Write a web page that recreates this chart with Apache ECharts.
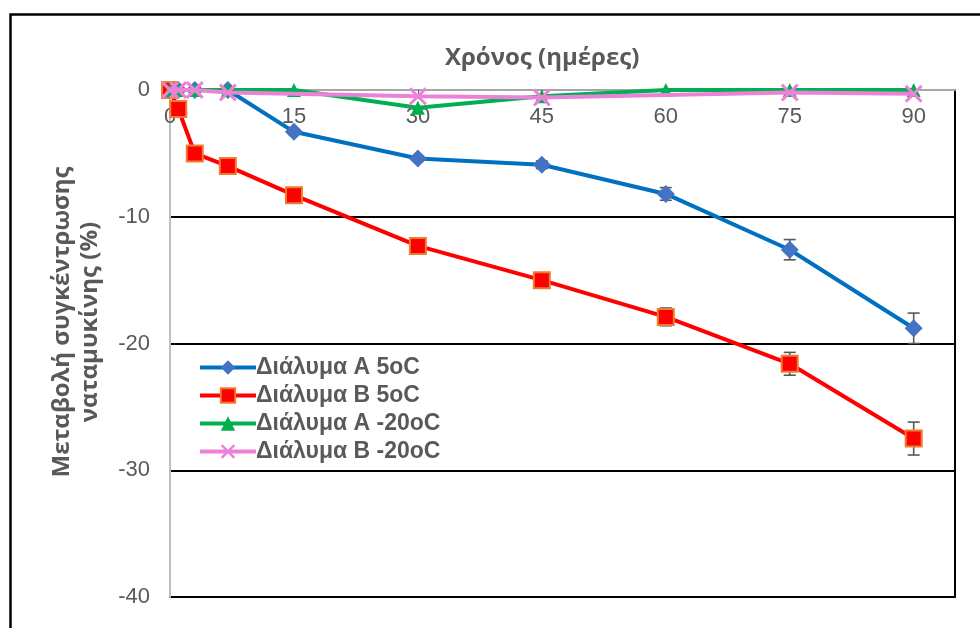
<!DOCTYPE html>
<html>
<head>
<meta charset="utf-8">
<script src="https://cdn.jsdelivr.net/npm/echarts@6/dist/echarts.min.js"></script>
<style>
  html, body { margin: 0; padding: 0; background: #fff; }
  #mainChart { width: 980px; height: 628px; }
</style>
</head>
<body>
<div id="mainChart"></div>
<script>
// δεδομένα
var days = [0, 1, 3, 7, 15, 30, 45, 60, 75, 90];
var xTicks = [0, 15, 30, 45, 60, 75, 90];
var yTicks = [0, -10, -20, -30, -40];
var seriesNames = ['Διάλυμα A 5oC', 'Διάλυμα B 5oC', 'Διάλυμα A -20oC', 'Διάλυμα B -20oC'];
var solA5 = [0, 0, 0, 0, -3.3, -5.4, -5.9, -8.2, -12.6, -18.8];
var solA5Err = [0, 0, 0, 0, 0.2, 0.2, 0.3, 0.5, 0.8, 1.2];
var solB5 = [0, -1.5, -5.0, -6.0, -8.3, -12.3, -15.0, -17.9, -21.6, -27.5];
var solB5Err = [0, 0, 0, 0, 0.2, 0.3, 0.5, 0.7, 0.9, 1.3];
var solA20 = [0, 0, 0, 0, 0, -1.4, -0.5, 0, 0, 0];
var solB20 = [0, 0, 0, -0.2, null, -0.5, -0.6, null, -0.2, -0.3];

var chartDom = document.getElementById('mainChart');
var myChart = echarts.init(chartDom);

function pairs(vals) {
    return days.map(function (d, i) { return [d, vals[i]]; });
}
function errData(vals, errs) {
    return days.map(function (d, i) { return [d, vals[i], errs[i]]; })
        .filter(function (p) { return p[2] > 0; });
}
function errorBars(params, api) {
    var x = api.value(0), y = api.value(1), e = api.value(2);
    var hi = api.coord([x, y + e]);
    var lo = api.coord([x, y - e]);
    var w = 6;
    var st = { stroke: '#595959', lineWidth: 1.6 };
    return {
        type: 'group',
        children: [
            { type: 'line', shape: { x1: hi[0], y1: hi[1], x2: lo[0], y2: lo[1] }, style: st },
            { type: 'line', shape: { x1: hi[0] - w, y1: hi[1], x2: hi[0] + w, y2: hi[1] }, style: st },
            { type: 'line', shape: { x1: lo[0] - w, y1: lo[1], x2: lo[0] + w, y2: lo[1] }, style: st }
        ]
    };
}

var xMark = 'path://M0,1.2L1.2,0L5,3.8L8.8,0L10,1.2L6.2,5L10,8.8L8.8,10L5,6.2L1.2,10L0,8.8L3.8,5Z';
var labelFont = { color: '#595959', fontSize: 22, fontFamily: 'Liberation Sans' };

var option = {
    animation: false,
    backgroundColor: '#fff',
    title: {
        text: 'Χρόνος (ημέρες)',
        left: 440,
        top: 41,
        textStyle: { color: '#595959', fontSize: 24, fontWeight: 'bold', fontFamily: 'Open Sans' }
    },
    graphic: [
        {
            type: 'rect', left: 8, top: 12, silent: true,
            shape: { width: 990, height: 640 },
            style: { fill: 'none', stroke: '#000', lineWidth: 2.5 }
        },
        {
            type: 'text', x: 76, y: 322, rotation: Math.PI / 2, silent: true,
            style: {
                text: 'Μεταβολή συγκέντρωσης\nναταμυκίνης (%)',
                align: 'center', verticalAlign: 'middle',
                fill: '#595959', fontSize: 24, fontWeight: 'bold',
                fontFamily: 'Open Sans', lineHeight: 28
            }
        }
    ],
    legend: {
        data: seriesNames,
        orient: 'vertical',
        left: 192,
        top: 353,
        itemWidth: 56,
        itemHeight: 18,
        itemGap: 3,
        padding: [2, 6],
        backgroundColor: '#fff',
        lineStyle: { width: 4 },
        textStyle: { color: '#595959', fontSize: 23, fontWeight: 'bold', fontFamily: 'Liberation Sans',
            lineHeight: 25, padding: [0, 0, 0, -5] }
    },
    grid: {
        left: 170, top: 90, right: 25, bottom: 31,
        show: true, borderColor: '#000', borderWidth: 2, backgroundColor: 'transparent'
    },
    xAxis: {
        type: 'value',
        position: 'top',
        min: 0, max: 95, interval: 15,
        axisLine: { onZero: false, lineStyle: { color: '#a6a6a6', width: 2 } },
        axisTick: { show: true, inside: true, length: 4, lineStyle: { color: '#595959' } },
        axisLabel: Object.assign({ inside: true, margin: 16, showMaxLabel: false,
            formatter: function (v) { return xTicks.indexOf(v) >= 0 ? String(v) : ''; } }, labelFont),
        splitLine: { show: false }
    },
    yAxis: {
        type: 'value',
        min: -40, max: 0, interval: 10,
        axisLine: { show: true, onZero: false, lineStyle: { color: '#bfbfbf', width: 2 } },
        axisTick: { show: false },
        axisLabel: Object.assign({ margin: 20,
            formatter: function (v) { return yTicks.indexOf(v) >= 0 ? String(v) : ''; } }, labelFont),
        splitLine: { show: true, lineStyle: { color: '#000', width: 2 } }
    },
    series: [
        {
            type: 'custom', renderItem: errorBars, data: errData(solA5, solA5Err),
            encode: { x: 0, y: 1 }, z: 1, silent: true
        },
        {
            type: 'custom', renderItem: errorBars, data: errData(solB5, solB5Err),
            encode: { x: 0, y: 1 }, z: 1, silent: true
        },
        {
            name: seriesNames[0], type: 'line', data: pairs(solA5), z: 3,
            symbol: 'diamond', symbolSize: 18,
            itemStyle: { color: '#4472c4' },
            lineStyle: { color: '#0070c0', width: 4 }
        },
        {
            name: seriesNames[1], type: 'line', data: pairs(solB5), z: 3,
            symbol: 'rect', symbolSize: 16,
            itemStyle: { color: '#ff0000', borderColor: '#ed7d31', borderWidth: 2 },
            lineStyle: { color: '#ff0000', width: 4 }
        },
        {
            name: seriesNames[2], type: 'line', data: pairs(solA20), z: 4,
            symbol: 'triangle', symbolSize: 14,
            itemStyle: { color: '#00b050' },
            lineStyle: { color: '#00b050', width: 4 }
        },
        {
            name: seriesNames[3], type: 'line', data: pairs(solB20), z: 5,
            connectNulls: true,
            symbol: xMark, symbolSize: 18,
            itemStyle: { color: '#ec82d8' },
            lineStyle: { color: '#ec82d8', width: 4 }
        }
    ]
};

myChart.setOption(option);
</script>
</body>
</html>
